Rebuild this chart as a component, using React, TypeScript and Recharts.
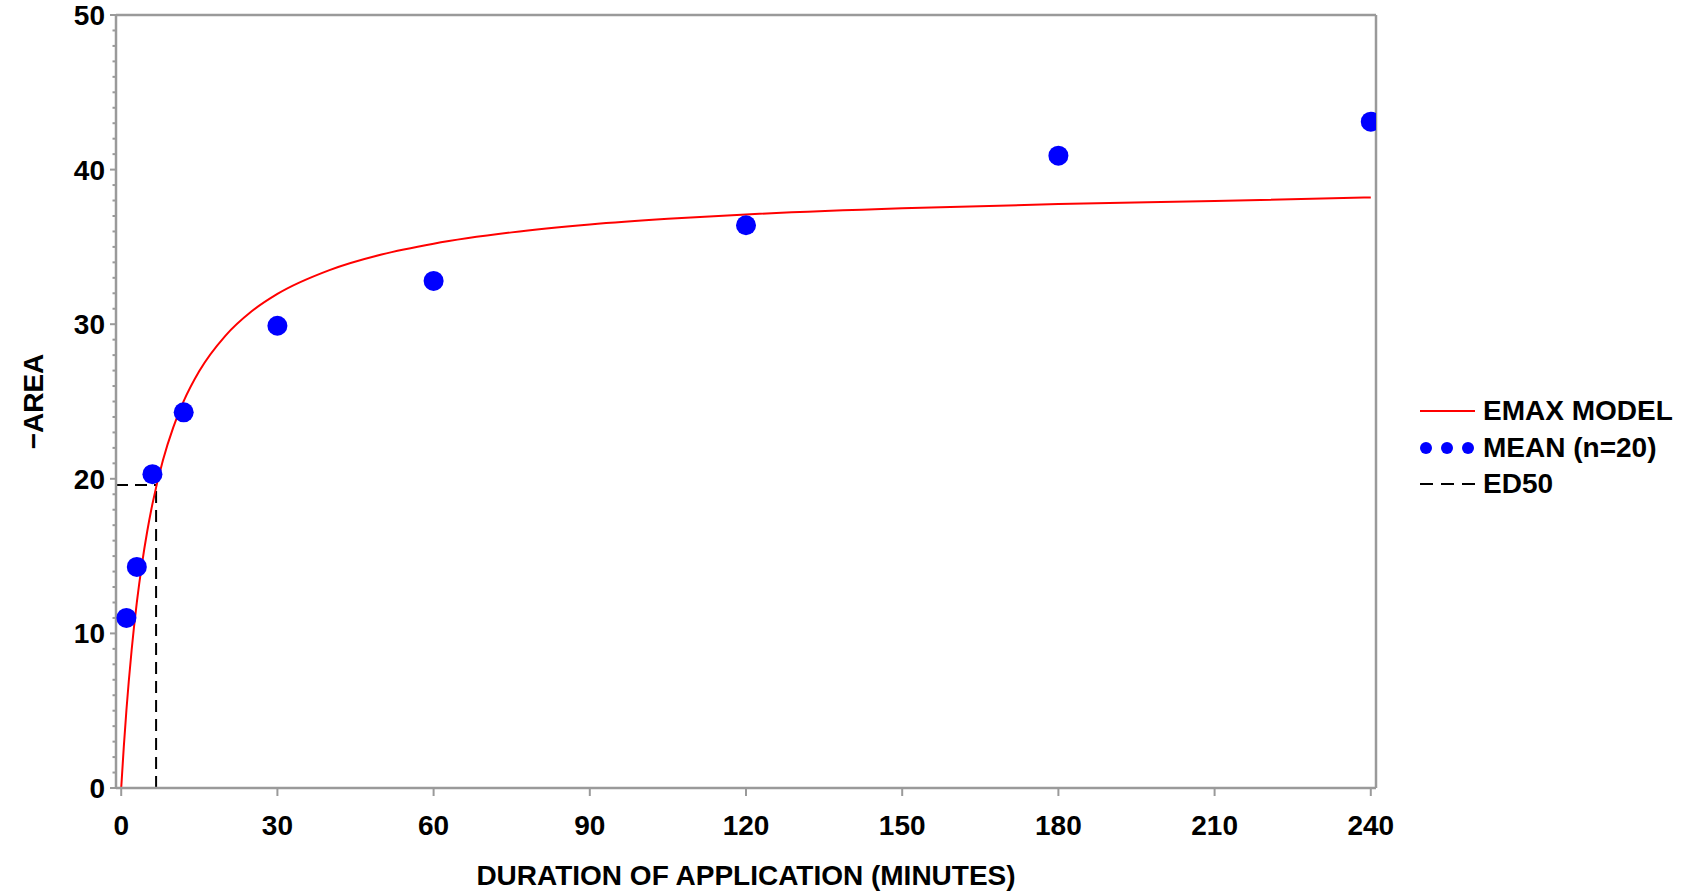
import React from 'react';
import {
  ComposedChart,
  Line,
  Scatter,
  XAxis,
  YAxis,
  ReferenceLine,
} from 'recharts';

// Observed means (minutes, -AREA)
const meanTimes = [1, 3, 6, 12, 30, 60, 120, 180, 240];
const meanValues = [11.0, 14.3, 20.3, 24.3, 29.9, 32.8, 36.4, 40.9, 43.1];

// EMAX model curve
const curveTimes = [0, 0.5, 1, 2, 3, 4, 5, 6, 8, 10, 12, 15, 20, 25, 30, 40, 50, 60, 75, 90, 105, 120, 150, 180, 210, 240];
const curveValues = [0, 2.68, 5.03, 8.91, 12.0, 14.52, 16.61, 18.38, 21.19, 23.33, 25.02, 26.97, 29.25, 30.82, 31.96, 33.5, 34.51, 35.21, 35.94, 36.45, 36.82, 37.1, 37.5, 37.77, 37.97, 38.2];

// ED50 marker
const ed50Time = 6.7;
const ed50Value = 19.6;

// Axis ticks
const xTicks = [0, 30, 60, 90, 120, 150, 180, 210, 240];
const yMajorTicks = [0, 10, 20, 30, 40, 50];
const yMinorTicks = Array.from({ length: 51 }, (_, i) => i);
const xDomain: [number, number] = [-1, 241];
const yDomain: [number, number] = [0, 50];

const meanData = meanTimes.map((x, i) => ({ x, y: meanValues[i] }));
const curveData = curveTimes.map((x, i) => ({ x, y: curveValues[i] }));

const FONT = '"Liberation Sans", Arial, Helvetica, sans-serif';
const FS = 28;
const AXIS = '#9a9a9a';

const YTick = (props: any) => {
  const { x, y, payload } = props;
  const v = payload.value;
  const major = yMajorTicks.includes(v);
  return (
    <g>
      <line x1={x - (major ? 6 : 3.5)} x2={x} y1={y} y2={y} stroke={AXIS} strokeWidth={2} />
      {major && (
        <text
          x={x - 11}
          y={y}
          dy="0.355em"
          textAnchor="end"
          fontFamily={FONT}
          fontWeight="bold"
          fontSize={FS}
          fill="#000"
        >
          {v}
        </text>
      )}
    </g>
  );
};

const legendRow: React.CSSProperties = {
  display: 'flex',
  alignItems: 'center',
  height: 36.5,
};
const legendText: React.CSSProperties = {
  fontFamily: FONT,
  fontWeight: 'bold',
  fontSize: FS,
  color: '#000',
  marginLeft: 8,
  whiteSpace: 'nowrap',
};

export default function App() {
  return (
    <div style={{ position: 'absolute', left: 0, top: 0, width: 1689, height: 895 }}>
      <ComposedChart
        width={1689}
        height={895}
        margin={{ top: 15, right: 313, bottom: 0, left: 0 }}
      >
        <XAxis
          dataKey="x"
          type="number"
          domain={xDomain}
          ticks={xTicks}
          allowDataOverflow
          interval={0}
          height={107}
          tickSize={8}
          tickMargin={19}
          axisLine={{ stroke: AXIS, strokeWidth: 2.5 }}
          tickLine={{ stroke: AXIS, strokeWidth: 2 }}
          tick={{ fontFamily: FONT, fontWeight: 'bold', fontSize: FS, fill: '#000' }}
          label={{
            value: 'DURATION OF APPLICATION (MINUTES)',
            position: 'insideBottom',
            offset: 10,
            style: { fontFamily: FONT, fontWeight: 'bold', fontSize: FS, fill: '#000' },
          }}
        />
        <YAxis
          type="number"
          domain={yDomain}
          ticks={yMinorTicks}
          interval={0}
          allowDataOverflow
          width={116}
          tickSize={0}
          tickMargin={0}
          tickLine={false}
          axisLine={{ stroke: AXIS, strokeWidth: 2.5 }}
          tick={<YTick />}
          label={{
            value: '\u2212AREA',
            angle: -90,
            position: 'insideLeft',
            offset: 33,
            style: { textAnchor: 'middle', fontFamily: FONT, fontWeight: 'bold', fontSize: FS, fill: '#000' },
          }}
        />
        <ReferenceLine y={yDomain[1]} stroke={AXIS} strokeWidth={2.5} />
        <ReferenceLine x={xDomain[1]} stroke={AXIS} strokeWidth={2.5} />
        <ReferenceLine
          segment={[
            { x: xDomain[0], y: ed50Value },
            { x: ed50Time, y: ed50Value },
          ]}
          stroke="#000"
          strokeWidth={2}
          strokeDasharray="12 7"
        />
        <ReferenceLine
          segment={[
            { x: ed50Time, y: 0 },
            { x: ed50Time, y: ed50Value },
          ]}
          stroke="#000"
          strokeWidth={2}
          strokeDasharray="12 7"
        />
        <Line
          data={curveData}
          dataKey="y"
          type="monotone"
          stroke="#ff0000"
          strokeWidth={2}
          dot={false}
          activeDot={false}
          isAnimationActive={false}
        />
        <Scatter
          data={meanData}
          dataKey="y"
          fill="#0000ff"
          isAnimationActive={false}
          shape={(p: any) => <circle cx={p.cx} cy={p.cy} r={10} fill="#0000ff" />}
        />
      </ComposedChart>
      <div style={{ position: 'absolute', left: 1420, top: 393 }}>
        <div style={legendRow}>
          <svg width={55} height={12}>
            <line x1={0} x2={55} y1={6} y2={6} stroke="#ff0000" strokeWidth={2} />
          </svg>
          <span style={legendText}>EMAX MODEL</span>
        </div>
        <div style={legendRow}>
          <svg width={55} height={14}>
            <circle cx={6} cy={7} r={6} fill="#0000ff" />
            <circle cx={27} cy={7} r={6} fill="#0000ff" />
            <circle cx={48} cy={7} r={6} fill="#0000ff" />
          </svg>
          <span style={legendText}>MEAN (n=20)</span>
        </div>
        <div style={legendRow}>
          <svg width={55} height={12}>
            <line x1={0} x2={55} y1={6} y2={6} stroke="#000" strokeWidth={2} strokeDasharray="13 8" />
          </svg>
          <span style={legendText}>ED50</span>
        </div>
      </div>
    </div>
  );
}
